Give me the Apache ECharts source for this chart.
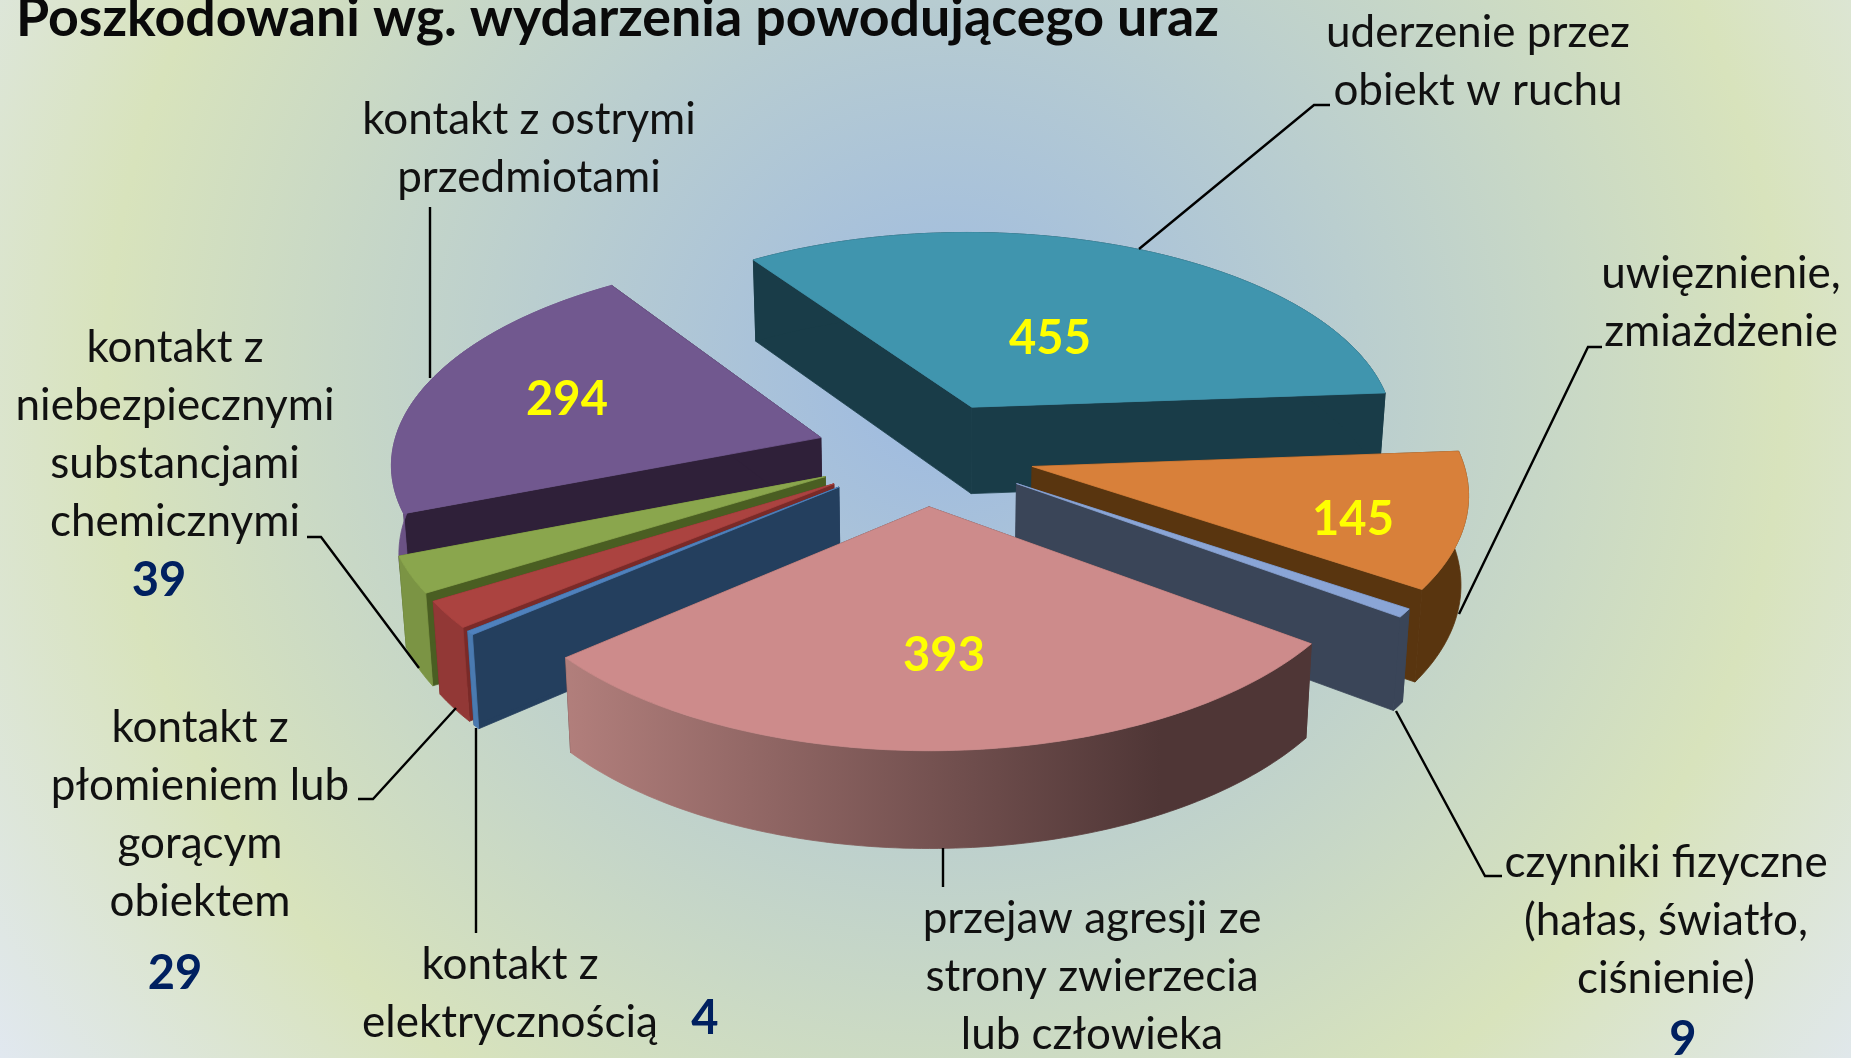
<!DOCTYPE html>
<html><head><meta charset="utf-8">
<style>html,body{margin:0;padding:0;background:#fff}#c{width:1851px;height:1058px}</style>
<script src="https://cdn.jsdelivr.net/npm/echarts@6/dist/echarts.min.js"></script>
</head><body><div id="c"></div>
<script>
const chartTitle = 'Poszkodowani wg. wydarzenia powodującego uraz';
const categories = [
  'uderzenie przez\nobiekt w ruchu',
  'uwięznienie,\nzmiażdżenie',
  'czynniki fizyczne\n(hałas, światło,\nciśnienie)',
  'przejaw agresji ze\nstrony zwierzecia\nlub człowieka',
  'kontakt z\nelektrycznością',
  'kontakt z\npłomieniem lub\ngorącym\nobiektem',
  'kontakt z\nniebezpiecznymi\nsubstancjami\nchemicznymi',
  'kontakt z ostrymi\nprzedmiotami'
];
const values = [455, 145, 9, 393, 4, 29, 39, 294];

// styles per slice
const topColors  = ['#4095ae','#d8803a','#8aa5d6','#cd8b8b','#4f81bd','#ab4340','#8aa64d','#71588f'];
const cutColors  = ['#193c48','#59350f','#3a4558','#4f3636','#243f5e','#7a2a28','#4a5e22','#2f2039'];
const rimColors  = ['#193c48','#59350f','#3a4558',
  {type:'linear',x:563,y:0,x2:1310,y2:0,global:true,colorStops:[{offset:0,color:'#b27f7c'},{offset:0.8,color:'#4f3636'},{offset:1,color:'#4f3636'}]},
  '#4a7ab0','#923836','#7b9444','#6b5285'];
const drawRank   = [0, 5, 6, 7, 4, 3, 2, 1]; // teal, orange, slate, pink, blue, red, green, purple

// layout
const labelPos = [[1478,62],[1721,303],[1666,921],[1092,977],[510,994],[200,815],[175,435],[529,149]];
const valuePos = [[1050,339],[1353,520],[1683,1040],[944,656],[705,1019],[175,974],[159,581],[567,400]];
const valueDark = [false,false,true,false,true,true,true,false];
const leaders = [
  [[1330,105],[1314,105],[1139,249]],
  [[1602,347],[1588,347],[1459,614]],
  [[1396,711],[1485,876],[1502,876]],
  [[943,848],[943,887]],
  [[476,728],[476,933]],
  [[456,708],[373,799],[358,799]],
  [[419,668],[321,537],[307,537]],
  [[430,378],[430,207]]
];
const CX=925, CY=453, R=429, EXPLODE=110, KY=0.475, Q=0.00026, START=-34, DEPTH=88, BOTTOM_SHRINK=0.986;
const total = values.reduce(function(a,b){return a+b;},0);

function project(X,Y){
  const s = 1/(1-Q*Y);
  return {x:CX+X*s, y:CY+KY*Y*s, s:s};
}
function lower(p){
  return [CX+(p.x-CX)*BOTTOM_SHRINK, p.y+DEPTH*Math.pow(p.s,0.7)];
}
function sliceShapes(i, v){
  let before=0; for(let j=0;j<i;j++) before+=values[j];
  const a1=START+before/total*360, a2=a1+v/total*360, mid=(a1+a2)/2*Math.PI/180;
  const ox=EXPLODE*Math.sin(mid), oy=-EXPLODE*Math.cos(mid);
  const apex=project(ox,oy);
  const arc=[]; const n=Math.max(2,Math.ceil(a2-a1));
  for(let k=0;k<=n;k++){
    const t=(a1+(a2-a1)*k/n)*Math.PI/180;
    arc.push(project(ox+R*Math.sin(t), oy-R*Math.cos(t)));
  }
  const pt=function(p){return [p.x,p.y];};
  const first=arc[0], last=arc[arc.length-1];
  return {
    top:[pt(apex)].concat(arc.map(pt)),
    cutA:[pt(apex),pt(first),lower(first),lower(apex)],
    cutB:[pt(apex),pt(last),lower(last),lower(apex)],
    rim:arc.map(pt).concat(arc.slice().reverse().map(lower))
  };
}
function renderSlice(params, api){
  const i=params.dataIndex, v=api.value(0), sh=sliceShapes(i,v), z=drawRank[i]*10;
  const poly=function(points,fill,dz){
    return {type:'polygon',silent:true,z2:z+dz,shape:{points:points},style:{fill:fill,stroke:fill,lineWidth:0.8}};
  };
  return {type:'group',children:[
    poly(sh.cutA,cutColors[i],0),
    poly(sh.cutB,cutColors[i],1),
    poly(sh.rim,rimColors[i],2),
    poly(sh.top,topColors[i],3)
  ]};
}
const textFont='Lato';
function renderLabel(params, api){
  const i=params.dataIndex, v=api.value(0);
  return {type:'group',children:[
    {type:'polyline',silent:true,z2:50,shape:{points:leaders[i]},style:{fill:null,stroke:'#000',lineWidth:2.4}},
    {type:'text',silent:true,z2:200,x:labelPos[i][0],y:labelPos[i][1],style:{
      text:categories[i],fontFamily:textFont,fontSize:44,lineHeight:58,fill:'#111',align:'center',verticalAlign:'middle'}},
    {type:'text',silent:true,z2:200,x:valuePos[i][0],y:valuePos[i][1],style:{
      text:String(v),fontFamily:textFont,fontWeight:'bold',fontSize:47,fill:valueDark[i]?'#002060':'#ffff00',align:'center',verticalAlign:'middle'}}
  ]};
}
const chart=echarts.init(document.getElementById('c'),null,{renderer:'canvas',width:1851,height:1058});
chart.setOption({
  animation:false,
  graphic:[
    {type:'rect',silent:true,z:-10,shape:{x:0,y:0,width:1851,height:1058},
      style:{fill:{type:'radial',x:945,y:380,r:1165,global:true,colorStops:[
        {offset:0,color:'#9cb9e2'},{offset:0.72,color:'#d8e3bc'},{offset:1,color:'#e1e8f0'}]}}},
    {type:'text',silent:true,z:100,x:16,y:19,style:{text:chartTitle,fontFamily:textFont,fontWeight:'bold',fontSize:53.7,fill:'#0a0a0a',align:'left',verticalAlign:'middle'}}
  ],
  series:[
    {type:'custom',coordinateSystem:'none',renderItem:renderSlice,data:values.map(function(v){return [v];}),silent:true,z:2},
    {type:'custom',coordinateSystem:'none',renderItem:renderLabel,data:values.map(function(v){return [v];}),silent:true,z:3}
  ]
});
</script></body></html>
